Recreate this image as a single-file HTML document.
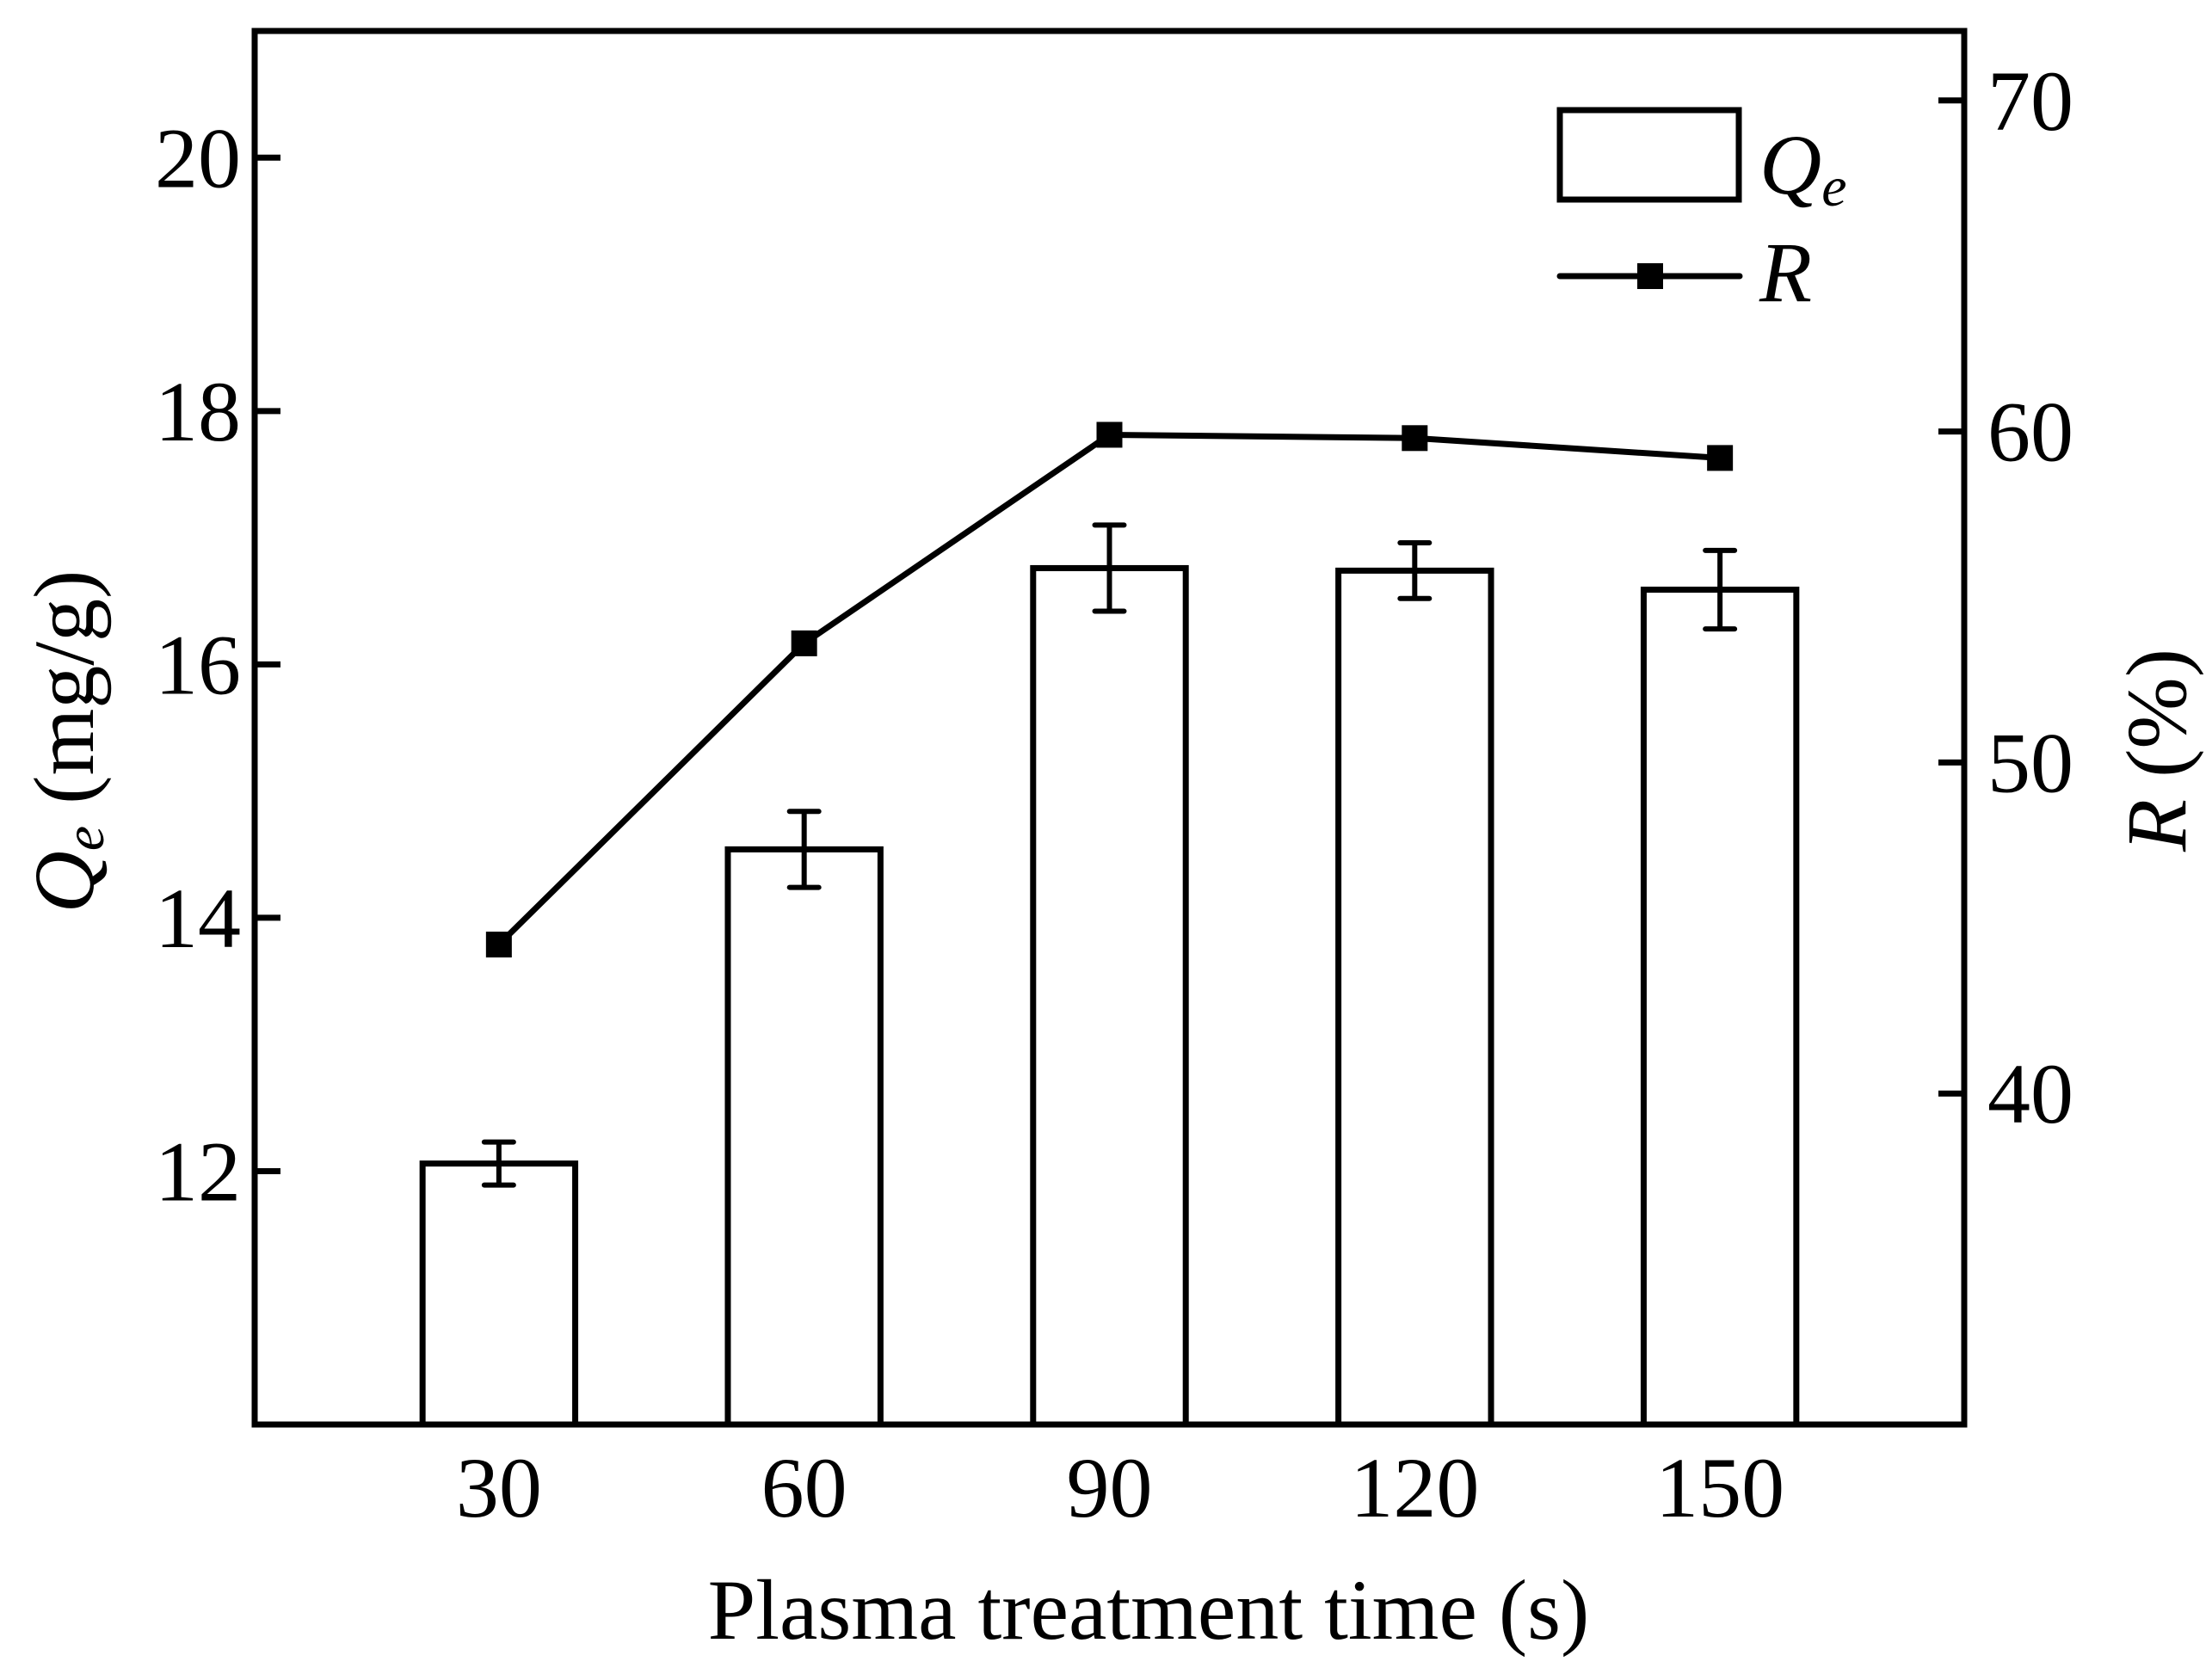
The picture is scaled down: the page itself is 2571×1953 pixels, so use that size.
<!DOCTYPE html>
<html><head><meta charset="utf-8"><style>
html,body{margin:0;padding:0;background:#fff;}
svg{display:block;}
text{font-family:"Liberation Serif",serif;fill:#000;}
</style></head><body>
<svg id="chart" width="2571" height="1953" viewBox="0 0 2571 1953">
<g id="plot"></g>
</svg>
<script>
const categories = ["30","60","90","120","150"];
const qeValues = [12.06, 14.54, 16.76, 16.74, 16.59];
const qeErrors = [0.17, 0.30, 0.34, 0.22, 0.31];
const rValues = [44.5, 53.6, 59.9, 59.8, 59.2];
const leftTicks = [12, 14, 16, 18, 20];
const rightTicks = [40, 50, 60, 70];

const NS = "http://www.w3.org/2000/svg";
const L = 296, Rr = 2283, T = 36, B = 1656;
const g = document.getElementById('plot');
function xScale(i){ return L + (i + 1 - 0.2) / 5.6 * (Rr - L); }
function yL(v){ return B - (v - 10) / 11 * (B - T); }
function yR(v){ return B - (v - 30) / 42.1 * (B - T); }
function mk(tag, attrs, parent){
  const e = document.createElementNS(NS, tag);
  for (const k in attrs) e.setAttribute(k, attrs[k]);
  (parent || g).appendChild(e);
  return e;
}
const bw = 0.5 / 5.6 * (Rr - L);
// bars
categories.forEach((c, i) => {
  const x = xScale(i);
  const r = mk('rect', {x: x - bw/2, y: yL(qeValues[i]), width: bw, height: B - yL(qeValues[i]), fill: '#fff', stroke: '#000', 'stroke-width': 7});
  
  
  const e1 = yL(qeValues[i] + qeErrors[i]), e2 = yL(qeValues[i] - qeErrors[i]);
  const eb = mk('path', {d: `M${x},${e1}V${e2}M${x-17},${e1}H${x+17}M${x-17},${e2}H${x+17}`, stroke: '#000', 'stroke-width': 6, 'stroke-linecap': 'round', fill: 'none'});
  
  
  const t = mk('text', {x: x, y: 1763, 'font-size': 100, 'text-anchor': 'middle'});
  t.textContent = c;
  
  
});
// line
const pts = rValues.map((v, i) => xScale(i) + ',' + yR(v)).join(' ');
const line = mk('polyline', {points: pts, fill: 'none', stroke: '#000', 'stroke-width': 7, 'stroke-linejoin': 'round'});


rValues.forEach((v, i) => {
  const m = mk('rect', {x: xScale(i) - 15, y: yR(v) - 15, width: 30, height: 30, fill: '#000'});
  
  
});
// axes frame
const fr = mk('rect', {x: L, y: T, width: Rr - L, height: B - T, fill: 'none', stroke: '#000', 'stroke-width': 7});


leftTicks.forEach(v => {
  const y = yL(v);
  const tk = mk('line', {x1: L, x2: L + 30, y1: y, y2: y, stroke: '#000', 'stroke-width': 7});
  
  
  const t = mk('text', {x: 280, y: y + 34, 'font-size': 100, 'text-anchor': 'end'});
  t.textContent = v;
  
  
});
rightTicks.forEach(v => {
  const y = yR(v);
  const tk = mk('line', {x1: Rr - 30, x2: Rr, y1: y, y2: y, stroke: '#000', 'stroke-width': 7});
  
  
  const t = mk('text', {x: 2310, y: y + 34, 'font-size': 100});
  t.textContent = v;
  
  
});
</script>
<svg style="position:absolute;left:0;top:0" width="2571" height="1953">
<text x="1335" y="1905" font-size="100" text-anchor="middle">Plasma treatment time (s)</text>
<text transform="translate(108,862) rotate(-90)" font-size="100" text-anchor="middle"><tspan font-style="italic">Q</tspan><tspan font-style="italic" font-size="66" dy="12">e</tspan><tspan dy="-12"> (mg/g)</tspan></text>
<text transform="translate(2540,872) rotate(-90)" font-size="100" text-anchor="middle"><tspan font-style="italic">R</tspan> (%)</text>
<rect x="1813" y="128" width="208" height="104" fill="#fff" stroke="#000" stroke-width="7"/>
<text x="2045" y="225" font-size="100" font-style="italic">Q<tspan font-size="66" dy="14">e</tspan></text>
<line x1="1813" x2="2022" y1="321" y2="321" stroke="#000" stroke-width="7" stroke-linecap="round"/>
<rect x="1903" y="306" width="30" height="30" fill="#000"/>
<text x="2045" y="350" font-size="100" font-style="italic">R</text>
</svg>
</body></html>
